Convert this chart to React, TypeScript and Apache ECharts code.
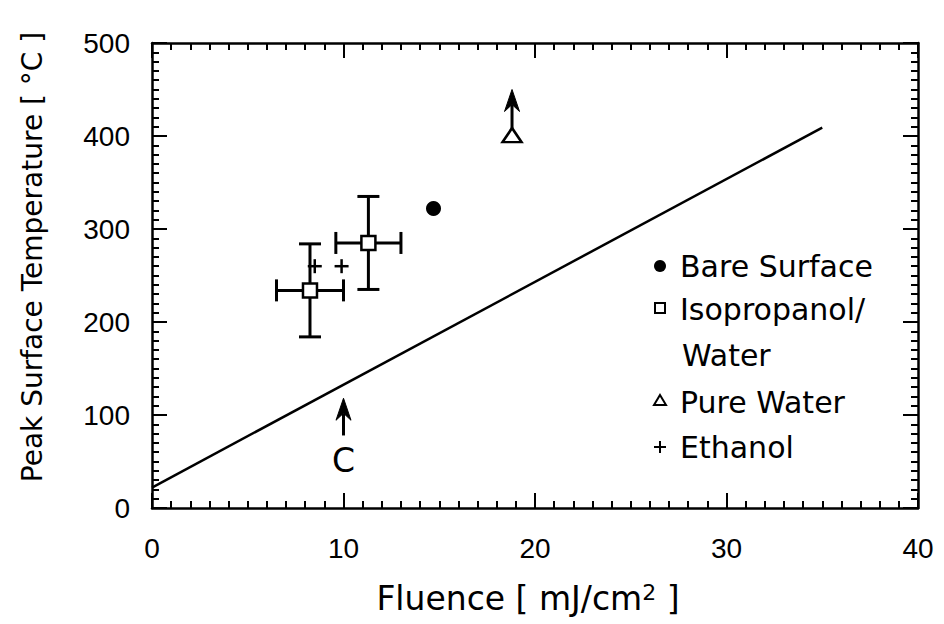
import React, { useEffect, useRef } from "react";
import * as echarts from "echarts";

// ---- data ----
const xMin = 0;
const xMax = 40;
const xStep = 10;
const xMinorStep = 1;
const yMin = 0;
const yMax = 500;
const yStep = 100;
const yMinorStep = 10;

const fitLine: number[][] = [
  [0, 22],
  [35, 409],
];
const bareSurface: number[][] = [[14.7, 322]];
const isoWater: number[][] = [
  [8.25, 234],
  [11.3, 285],
];
const isoXErr: number[] = [1.75, 1.7];
const isoYErr: number[] = [50, 50];
const pureWater: number[][] = [[18.8, 401]];
const ethanol: number[][] = [
  [8.5, 260],
  [9.9, 260],
];
const arrowX: number[] = [18.8, 10];
const arrowFrom: number[] = [408, 78];
const arrowTo: number[] = [450, 118];
const arrowLabelY: number[] = [0, 51];
const arrowLabels: string[] = ["", "C"];

const legendNames: string[] = ["Bare Surface", "Isopropanol/", "Water", "Pure Water", "Ethanol"];

const TEXT_FONT = "'DejaVu Sans', 'Liberation Sans', sans-serif";
const NUM_FONT = "'Liberation Sans Narrow', 'Liberation Sans', sans-serif";

export default function App() {
  const ref = useRef<HTMLDivElement>(null);

  useEffect(() => {
    if (!ref.current) return;
    const chart = echarts.init(ref.current, null, { renderer: "svg" });
    const black = "#000";

    const makeAxis = (
      min: number,
      max: number,
      interval: number,
      position: string,
      label: any
    ) => ({
      type: "value",
      min,
      max,
      interval,
      position,
      axisLine: { show: true, onZero: false, lineStyle: { color: black, width: 2.5 } },
      axisTick: { show: true, inside: true, length: 15, lineStyle: { color: black, width: 2 } },
      minorTick: {
        show: true,
        splitNumber: interval === xStep && max === xMax ? xStep / xMinorStep : yStep / yMinorStep,
        length: 7,
        lineStyle: { color: black, width: 2 },
      },
      axisLabel: label,
      splitLine: { show: false },
      minorSplitLine: { show: false },
    });

    const xLabel = { fontSize: 28, color: black, fontFamily: NUM_FONT, margin: 26 };
    const yLabel = { fontSize: 28, color: black, fontFamily: NUM_FONT, margin: 22 };
    const noLabel = { show: false };

    const option: any = {
      animation: false,
      backgroundColor: "#fff",
      grid: { left: 152, right: 26, top: 43, bottom: 116, containLabel: false },
      xAxis: [
        makeAxis(xMin, xMax, xStep, "bottom", xLabel),
        makeAxis(xMin, xMax, xStep, "top", noLabel),
      ],
      yAxis: [
        makeAxis(yMin, yMax, yStep, "left", yLabel),
        makeAxis(yMin, yMax, yStep, "right", noLabel),
      ],
      series: [
        {
          name: "fit",
          type: "line",
          data: fitLine,
          showSymbol: false,
          symbol: "none",
          lineStyle: { color: black, width: 2.5 },
          z: 2,
        },
        {
          name: "errors",
          type: "custom",
          data: isoWater.map((p, i) => [p[0], p[1], isoXErr[i], isoYErr[i]]),
          encode: { x: 0, y: 1 },
          z: 3,
          renderItem: (params: any, api: any) => {
            const x = api.value(0);
            const y = api.value(1);
            const ex = api.value(2);
            const ey = api.value(3);
            const l = api.coord([x - ex, y]);
            const r = api.coord([x + ex, y]);
            const t = api.coord([x, y + ey]);
            const b = api.coord([x, y - ey]);
            const cap = 11;
            const st = { stroke: black, lineWidth: 3 };
            return {
              type: "group",
              children: [
                { type: "line", shape: { x1: l[0], y1: l[1], x2: r[0], y2: r[1] }, style: st },
                { type: "line", shape: { x1: t[0], y1: t[1], x2: b[0], y2: b[1] }, style: st },
                { type: "line", shape: { x1: l[0], y1: l[1] - cap, x2: l[0], y2: l[1] + cap }, style: st },
                { type: "line", shape: { x1: r[0], y1: r[1] - cap, x2: r[0], y2: r[1] + cap }, style: st },
                { type: "line", shape: { x1: t[0] - cap, y1: t[1], x2: t[0] + cap, y2: t[1] }, style: st },
                { type: "line", shape: { x1: b[0] - cap, y1: b[1], x2: b[0] + cap, y2: b[1] }, style: st },
              ],
            };
          },
        },
        {
          name: "Bare Surface",
          type: "scatter",
          data: bareSurface,
          symbol: "circle",
          symbolSize: 15,
          itemStyle: { color: black, opacity: 1 },
          z: 4,
        },
        {
          name: "Isopropanol/Water",
          type: "scatter",
          data: isoWater,
          symbol: "rect",
          symbolSize: 14,
          itemStyle: { color: "#fff", borderColor: black, borderWidth: 2.5, opacity: 1 },
          z: 4,
        },
        {
          name: "Pure Water",
          type: "scatter",
          data: pureWater,
          symbol: "triangle",
          symbolSize: [19, 14],
          itemStyle: { color: "#fff", borderColor: black, borderWidth: 2.5, opacity: 1 },
          z: 4,
        },
        {
          name: "Ethanol",
          type: "custom",
          data: ethanol,
          encode: { x: 0, y: 1 },
          z: 4,
          renderItem: (params: any, api: any) => {
            const c = api.coord([api.value(0), api.value(1)]);
            const h = 7;
            const st = { stroke: black, lineWidth: 2.5 };
            return {
              type: "group",
              children: [
                { type: "line", shape: { x1: c[0] - h, y1: c[1], x2: c[0] + h, y2: c[1] }, style: st },
                { type: "line", shape: { x1: c[0], y1: c[1] - h, x2: c[0], y2: c[1] + h }, style: st },
              ],
            };
          },
        },
        {
          name: "arrows",
          type: "custom",
          data: arrowX.map((x, i) => [x, arrowFrom[i], arrowTo[i], arrowLabelY[i]]),
          encode: { x: 0, y: [1, 2] },
          z: 4,
          renderItem: (params: any, api: any) => {
            const x = api.value(0);
            const s = api.coord([x, api.value(1)]);
            const e = api.coord([x, api.value(2)]);
            const headLen = 22;
            const halfW = 7.5;
            const indent = 7;
            const children: any[] = [
              {
                type: "line",
                shape: { x1: s[0], y1: s[1], x2: e[0], y2: e[1] + headLen - indent },
                style: { stroke: black, lineWidth: 3 },
              },
              {
                type: "polygon",
                shape: {
                  points: [
                    [e[0], e[1]],
                    [e[0] - halfW, e[1] + headLen],
                    [e[0], e[1] + headLen - indent],
                    [e[0] + halfW, e[1] + headLen],
                  ],
                },
                style: { fill: black, stroke: black, lineWidth: 1 },
              },
            ];
            const lab = arrowLabels[params.dataIndex];
            if (lab) {
              const p = api.coord([x, api.value(3)]);
              children.push({
                type: "text",
                x: p[0],
                y: p[1],
                style: {
                  text: lab,
                  fontSize: 33,
                  fontFamily: TEXT_FONT,
                  fill: black,
                  align: "center",
                  verticalAlign: "middle",
                },
              });
            }
            return { type: "group", children };
          },
        },
      ],
      graphic: [
        {
          type: "text",
          x: 32,
          y: 257,
          rotation: Math.PI / 2,
          style: {
            text: "Peak Surface Temperature [ °C ]",
            fontSize: 28,
            fontFamily: TEXT_FONT,
            fill: black,
            align: "center",
            verticalAlign: "middle",
          },
        },
        {
          type: "text",
          x: 528,
          y: 598,
          style: {
            text: "{a|Fluence [ mJ/cm}{s|2}{a| ]}",
            align: "center",
            verticalAlign: "middle",
            fill: black,
            rich: {
              a: { fontSize: 33, fontFamily: TEXT_FONT, fill: black },
              s: { fontSize: 22, fontFamily: TEXT_FONT, fill: black, verticalAlign: "top" },
            },
          },
        },
        { type: "circle", shape: { cx: 660, cy: 266, r: 6 }, style: { fill: black } },
        {
          type: "rect",
          shape: { x: 655, y: 303, width: 10, height: 10 },
          style: { fill: "#fff", stroke: black, lineWidth: 2 },
        },
        {
          type: "polygon",
          shape: { points: [[660, 395], [666, 405], [654, 405]] },
          style: { fill: "#fff", stroke: black, lineWidth: 2 },
        },
        { type: "line", shape: { x1: 654, y1: 447, x2: 666, y2: 447 }, style: { stroke: black, lineWidth: 2 } },
        { type: "line", shape: { x1: 660, y1: 441, x2: 660, y2: 453 }, style: { stroke: black, lineWidth: 2 } },
        ...legendNames.map((t, i) => ({
          type: "text",
          x: i === 2 ? 682 : 680,
          y: [266, 309, 355, 402, 447][i],
          style: {
            text: t,
            fontSize: 30,
            fontFamily: TEXT_FONT,
            fill: black,
            align: "left",
            verticalAlign: "middle",
          },
        })),
      ],
    };

    chart.setOption(option);
    return () => {
      chart.dispose();
    };
  }, []);

  return (
    <div
      ref={ref}
      style={{ position: "fixed", left: 0, top: 0, width: 944, height: 624, background: "#fff" }}
    />
  );
}
